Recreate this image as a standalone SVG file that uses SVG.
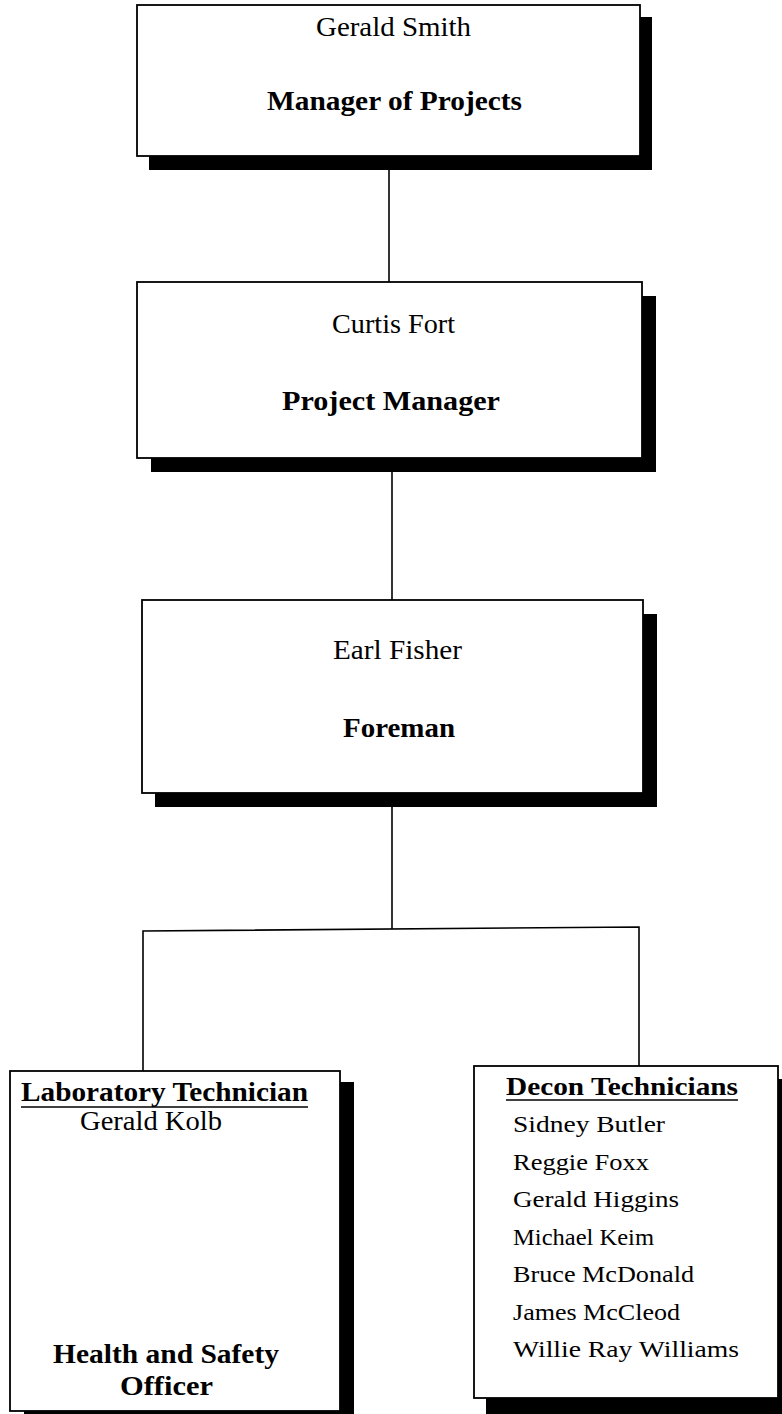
<svg xmlns="http://www.w3.org/2000/svg" width="782" height="1414" viewBox="0 0 782 1414">
<style>
.shadow{fill:#000}
.box{fill:#fff;stroke:#000;stroke-width:1.8}
.conn{fill:none;stroke:#000;stroke-width:1.6}
text{font-family:"Liberation Serif","Times New Roman",serif;fill:#000}
.n{font-size:27px}
.t{font-size:27px;font-weight:bold}
.s{font-size:24px}
.sb{font-size:25px;font-weight:bold}
.ul{stroke:#000;stroke-width:1.6}
</style>
<rect width="782" height="1414" fill="#fff"/>
<g id="connectors">
<line class="conn" x1="389" y1="156" x2="389" y2="282"/>
<line class="conn" x1="392" y1="458" x2="392" y2="600"/>
<line class="conn" x1="392" y1="793" x2="392" y2="929"/>
<polyline class="conn" points="143,1071 143,931 639,927 639,1066"/>
</g>
<g id="node-gerald-smith">
<rect class="shadow" x="149" y="17" width="503" height="153"/>
<rect class="box" x="137" y="5" width="503" height="151"/>
<text class="n" x="316" y="36" textLength="155" lengthAdjust="spacingAndGlyphs">Gerald Smith</text>
<text class="t" x="267" y="110" textLength="255" lengthAdjust="spacingAndGlyphs">Manager of Projects</text>
</g>
<g id="node-curtis-fort">
<rect class="shadow" x="151" y="296" width="505" height="176"/>
<rect class="box" x="137" y="282" width="505" height="176"/>
<text class="n" x="332" y="333" textLength="123" lengthAdjust="spacingAndGlyphs">Curtis Fort</text>
<text class="t" x="282" y="410" textLength="218" lengthAdjust="spacingAndGlyphs">Project Manager</text>
</g>
<g id="node-earl-fisher">
<rect class="shadow" x="155" y="614" width="502" height="193"/>
<rect class="box" x="142" y="600" width="501" height="193"/>
<text class="n" x="333" y="659" textLength="129" lengthAdjust="spacingAndGlyphs">Earl Fisher</text>
<text class="t" x="343" y="737" textLength="112" lengthAdjust="spacingAndGlyphs">Foreman</text>
</g>
<g id="node-lab-tech">
<rect class="shadow" x="24" y="1082" width="330" height="345"/>
<rect class="box" x="10" y="1071" width="330" height="340"/>
<text class="t" x="21" y="1101" textLength="287" lengthAdjust="spacingAndGlyphs">Laboratory Technician</text>
<line class="ul" x1="21" y1="1107" x2="308" y2="1107"/>
<text class="n" x="80" y="1130" textLength="142" lengthAdjust="spacingAndGlyphs">Gerald Kolb</text>
<text class="t" x="53" y="1363" textLength="226" lengthAdjust="spacingAndGlyphs">Health and Safety</text>
<text class="t" x="120" y="1395" textLength="93" lengthAdjust="spacingAndGlyphs">Officer</text>
</g>
<g id="node-decon-techs">
<rect class="shadow" x="486" y="1079" width="310" height="345"/>
<rect class="box" x="474" y="1066" width="304" height="332"/>
<text class="sb" x="506" y="1095" textLength="232" lengthAdjust="spacingAndGlyphs">Decon Technicians</text>
<line class="ul" x1="506" y1="1100" x2="738" y2="1100"/>
<text class="s" x="513" y="1132" textLength="152" lengthAdjust="spacingAndGlyphs">Sidney Butler</text>
<text class="s" x="513" y="1169.5" textLength="136" lengthAdjust="spacingAndGlyphs">Reggie Foxx</text>
<text class="s" x="513" y="1207" textLength="166" lengthAdjust="spacingAndGlyphs">Gerald Higgins</text>
<text class="s" x="513" y="1244.5" textLength="141" lengthAdjust="spacingAndGlyphs">Michael Keim</text>
<text class="s" x="513" y="1282" textLength="181" lengthAdjust="spacingAndGlyphs">Bruce McDonald</text>
<text class="s" x="513" y="1319.5" textLength="167" lengthAdjust="spacingAndGlyphs">James McCleod</text>
<text class="s" x="513" y="1357" textLength="226" lengthAdjust="spacingAndGlyphs">Willie Ray Williams</text>
</g>
</svg>
